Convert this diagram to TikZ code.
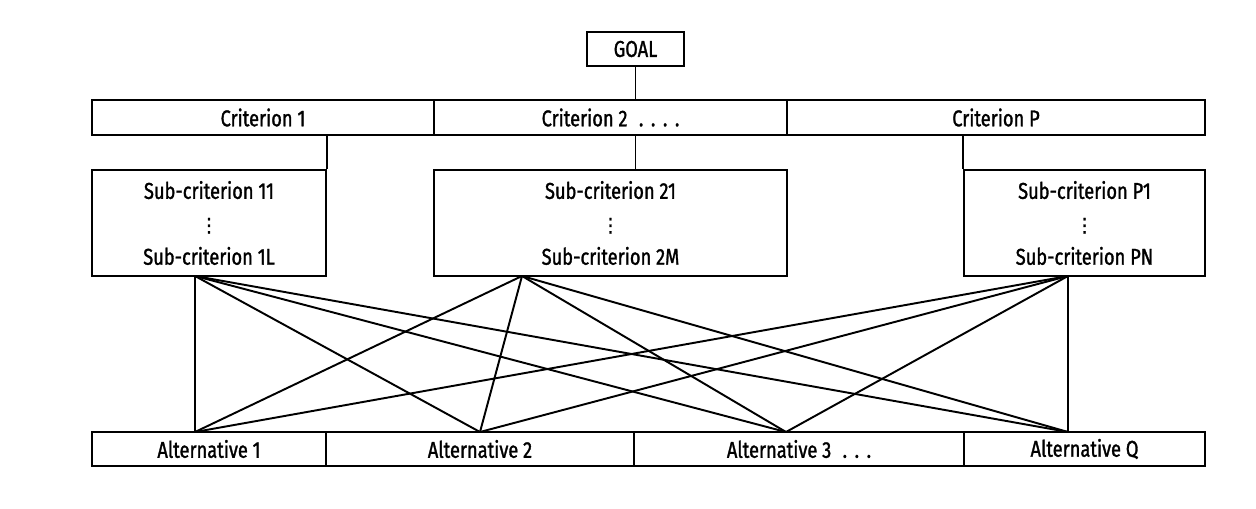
\documentclass[tikz,border=0pt]{standalone}
\usepackage{fontspec}
\setmainfont[FakeStretch=0.8,FakeBold=1.3]{Fira Sans}
\newfontfamily\dotsfont[FakeBold=1.3]{DejaVu Sans}
\usetikzlibrary{positioning,calc}
\tikzset{box/.style={draw,line width=1.3pt,inner sep=0pt,align=center,
    font=\fontsize{13}{18.75}\selectfont},
  bar/.style={box,minimum height=.69cm},
  sub/.style={box,minimum height=2.12cm},
  link/.style={line width=1.1pt}}
\newcommand{\vdotsmid}{{\dotsfont\fontsize{11}{11}\selectfont ⋮}}
\begin{document}
\begin{tikzpicture}[x=.02cm,y=-.02cm]
\useasboundingbox (0,0) rectangle (1256,509);
% goal and criteria
\node[bar,minimum width=1.94cm,minimum height=.68cm] (goal) at (635.5,49) {GOAL};
\node[bar,minimum width=6.84cm] (crit1) at (263,117.5) {Criterion 1};
\node[bar,minimum width=7.06cm] (crit2) at (610.5,117.5) {Criterion 2\enspace.\,\,.\,\,.\,\,.};
\node[bar,minimum width=8.36cm] (critP) at (996,117.5) {Criterion P};
% sub-criteria
\node[sub,minimum width=4.68cm] (sub1) at (209,223) {Sub-criterion 11\\\vdotsmid\\Sub-criterion 1L};
\node[sub,minimum width=7.06cm] (sub2) at (610.5,223) {Sub-criterion 21\\\vdotsmid\\Sub-criterion 2M};
\node[sub,minimum width=4.82cm] (subP) at (1084.5,223) {Sub-criterion P1\\\vdotsmid\\Sub-criterion PN};
% alternatives
\node[bar,minimum width=4.68cm] (alt1) at (209,449) {Alternative 1};
\node[bar,minimum width=6.16cm] (alt2) at (480,449) {Alternative 2};
\node[bar,minimum width=6.60cm] (alt3) at (799,449) {Alternative 3\enspace.\,\,.\,\,.};
\node[bar,minimum width=4.82cm] (altQ) at (1084.5,449) {Alternative Q};
% tree links
\draw[link] (goal.south) -- (goal.south |- crit2.north);
\draw[link] (sub1.north east |- crit1.south) -- (sub1.north east);
\draw[link] (goal.south |- crit2.south) -- (goal.south |- sub2.north);
\draw[link] (subP.north west |- critP.south) -- (subP.north west);
% end points of the cross links
\coordinate (s1) at (195,276);
\coordinate (s2) at (522,276);
\coordinate (sP) at (1068,276);
\coordinate (a1) at (195,432);
\coordinate (a2) at (480,432);
\coordinate (a3) at (786,432);
\coordinate (aQ) at (1068,432);
\foreach \s in {s1,s2,sP}
  \foreach \a in {a1,a2,a3,aQ}
    \draw[link] (\s) -- (\a);
\end{tikzpicture}
\end{document}
